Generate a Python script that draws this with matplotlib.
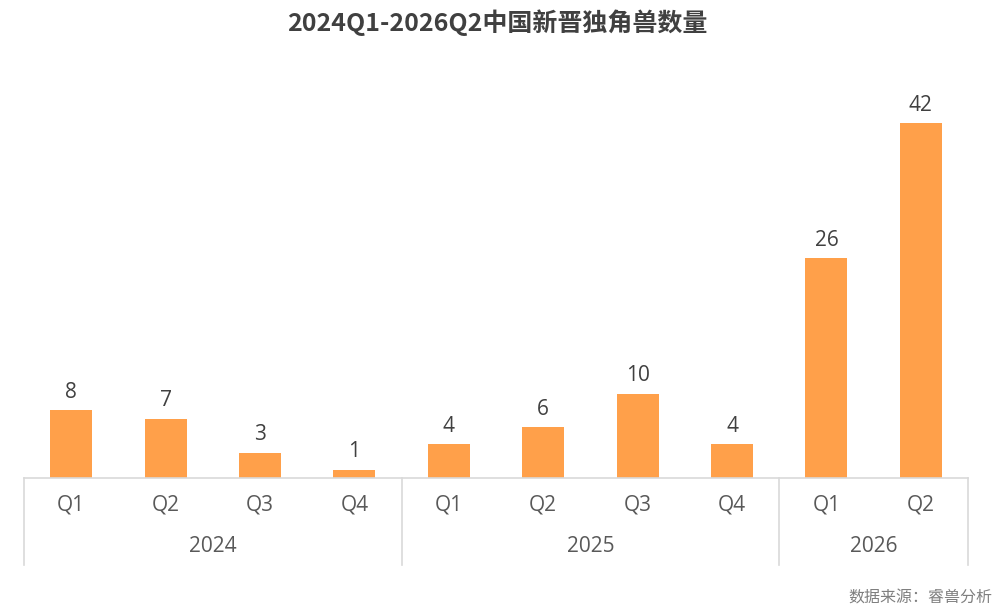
import matplotlib
matplotlib.use("Agg")
import matplotlib.pyplot as plt
import matplotlib.transforms as mtransforms

plt.rcParams['font.family'] = ['Open Sans', 'Noto Sans CJK SC', 'DejaVu Sans']

# ==== 数据 ====
quarters = ['Q1', 'Q2', 'Q3', 'Q4', 'Q1', 'Q2', 'Q3', 'Q4', 'Q1', 'Q2']
years = ['2024', '2025', '2026']
year_counts = [4, 4, 2]
counts = [8, 7, 3, 1, 4, 6, 10, 4, 26, 42]

bar_color = '#FFA04A'
grid_color = '#D9D9D9'

fig = plt.figure(figsize=(10, 6.08), dpi=100)
ax = fig.add_axes([0.024, 0.2138, 0.944, 0.625])

x = list(range(len(counts)))
bars = ax.bar(x, counts, width=0.445, color=bar_color, zorder=2)

ax.set_xlim(-0.5, len(counts) - 0.5)
ax.set_ylim(0, 45)

for b, v in zip(bars, counts):
    ax.text(b.get_x() + b.get_width() / 2, v + 0.9, str(v), ha='center', va='bottom',
            fontsize=15, color='#404040')

for s in ['top', 'right', 'left']:
    ax.spines[s].set_visible(False)
ax.spines['bottom'].set_color(grid_color)
ax.spines['bottom'].set_linewidth(1.2)
ax.set_yticks([])
ax.set_xticks([])

trans = mtransforms.blended_transform_factory(ax.transData, ax.transAxes)

# 季度标签
for xi, q in zip(x, quarters):
    ax.text(xi, -0.071, q, transform=trans, ha='center', va='center',
            fontsize=15, color='#595959')

# 年份标签与分隔线
start = 0
edges = [-0.5]
for yr, n in zip(years, year_counts):
    mid = start + (n - 1) / 2
    ax.text(mid, -0.179, yr, transform=trans, ha='center', va='center',
            fontsize=15, color='#595959')
    start += n
    edges.append(start - 0.5)
for e in edges:
    ax.plot([e, e], [0, -0.229], transform=trans, color=grid_color, lw=1.2, clip_on=False)

fig.text(0.497, 0.963, '2024Q1-2026Q2中国新晋独角兽数量', ha='center', va='center',
         fontsize=18, fontweight='bold', color='#404040',
         family=['Noto Sans CJK SC', 'DejaVu Sans'])
fig.text(0.992, 0.017, '数据来源：睿兽分析', ha='right', va='center',
         fontsize=11.5, color='#7F7F7F', family=['Noto Sans CJK SC', 'DejaVu Sans'])

fig.savefig('out.png', dpi=100)
